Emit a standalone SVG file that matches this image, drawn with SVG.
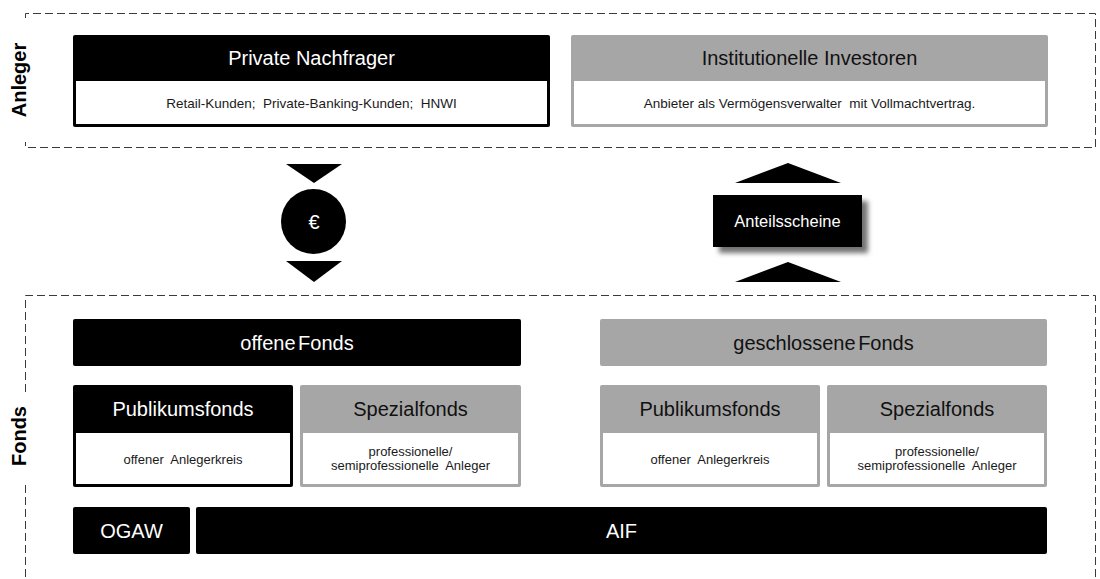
<svg xmlns="http://www.w3.org/2000/svg" width="1100" height="579" viewBox="0 0 1100 579">
  <defs>
    <style>
      .dash { fill: none; stroke: #3a3a3a; stroke-width: 1; stroke-dasharray: 8 4; }
      .blk { fill: #000000; }
      .gry { fill: #a6a6a6; }
      .wht { fill: #ffffff; }
      .t { font-family: "Liberation Sans", Arial, sans-serif; text-anchor: middle; white-space: pre; }
      .hw { font-size: 20px; fill: #ffffff; }
      .hd { font-size: 20px; fill: #111111; }
      .sub { font-size: 13.5px; fill: #1a1a1a; }
      .sub2 { font-size: 13px; fill: #1a1a1a; }
      .lbl { font-size: 20px; font-weight: bold; fill: #000000; }
      .arr { fill: #000000; }
    </style>
    <filter id="shadow" x="-20%" y="-30%" width="150%" height="180%">
      <feDropShadow dx="6" dy="6" stdDeviation="2.5" flood-color="#000000" flood-opacity="0.55"/>
    </filter>
  </defs>
  <rect width="1100" height="579" fill="#ffffff"/>

  <!-- Anleger region -->
  <g id="region-anleger">
    <path class="dash" d="M25.5 18 V13.5 H1095.5 V147.5 H25.5 V142"/>
    <text class="t lbl" transform="translate(26 80) rotate(-90)">Anleger</text>
  </g>

  <g id="node-private">
    <rect x="73" y="35" width="477" height="92" rx="2" class="blk"/>
    <rect x="76" y="81" width="471" height="43" class="wht"/>
    <text class="t hw" x="311.5" y="64.5">Private Nachfrager</text>
    <text class="t sub" x="311.5" y="108">Retail-Kunden;  Private-Banking-Kunden;  HNWI</text>
  </g>

  <g id="node-institutionelle">
    <rect x="571" y="35" width="477" height="92" rx="2" class="gry"/>
    <rect x="574" y="81" width="471" height="43" class="wht"/>
    <text class="t hd" x="809.5" y="64.5">Institutionelle Investoren</text>
    <text class="t sub" x="809.5" y="108">Anbieter als Vermögensverwalter  mit Vollmachtvertrag.</text>
  </g>

  <!-- Connectors / flow symbols -->
  <g id="connectors">
    <polygon class="arr" points="286,164 342,164 314,183"/>
    <polygon class="arr" points="286,261 342,261 314,282"/>
    <polygon class="arr" points="735,183 841,183 788,163"/>
    <polygon class="arr" points="735,282 841,282 788,262"/>
  </g>

  <g id="node-euro">
    <circle cx="313.5" cy="221.5" r="32.5" class="blk"/>
    <text class="t" x="314" y="229" font-size="20" fill="#ffffff">€</text>
  </g>

  <g id="node-anteilsscheine">
    <rect x="713" y="195" width="149" height="52" class="blk" filter="url(#shadow)"/>
    <text class="t" x="787.5" y="227" font-size="16.5" fill="#ffffff">Anteilsscheine</text>
  </g>

  <!-- Fonds region -->
  <g id="region-fonds">
    <path class="dash" d="M25.5 392 V295.5 H1095.5 V600 M25.5 485 V600"/>
    <text class="t lbl" transform="translate(26 436) rotate(-90)">Fonds</text>
  </g>

  <g id="node-offene-fonds">
    <rect x="73" y="319" width="448" height="47" rx="2" class="blk"/>
    <text class="t hw" x="297" y="349.5" word-spacing="-3">offene Fonds</text>
  </g>

  <g id="node-geschlossene-fonds">
    <rect x="600" y="319" width="447" height="47" rx="2" class="gry"/>
    <text class="t hd" x="823.5" y="349.5" word-spacing="-3">geschlossene Fonds</text>
  </g>

  <g id="node-publikum-offen">
    <rect x="73" y="385" width="220" height="102" rx="2" class="blk"/>
    <rect x="76" y="433" width="214" height="51" class="wht"/>
    <text class="t hw" x="183" y="416">Publikumsfonds</text>
    <text class="t sub2" x="183" y="463.5">offener  Anlegerkreis</text>
  </g>

  <g id="node-spezial-offen">
    <rect x="300" y="385" width="221" height="102" rx="2" class="gry"/>
    <rect x="303" y="433" width="215" height="51" class="wht"/>
    <text class="t hd" x="410.5" y="416">Spezialfonds</text>
    <text class="t sub2" x="410.5" y="456">professionelle/</text>
    <text class="t sub2" x="410.5" y="470">semiprofessionelle  Anleger</text>
  </g>

  <g id="node-publikum-geschlossen">
    <rect x="600" y="385" width="220" height="102" rx="2" class="gry"/>
    <rect x="603" y="433" width="214" height="51" class="wht"/>
    <text class="t hd" x="710" y="416">Publikumsfonds</text>
    <text class="t sub2" x="710" y="463.5">offener  Anlegerkreis</text>
  </g>

  <g id="node-spezial-geschlossen">
    <rect x="827" y="385" width="220" height="102" rx="2" class="gry"/>
    <rect x="830" y="433" width="214" height="51" class="wht"/>
    <text class="t hd" x="937" y="416">Spezialfonds</text>
    <text class="t sub2" x="937" y="456">professionelle/</text>
    <text class="t sub2" x="937" y="470">semiprofessionelle  Anleger</text>
  </g>

  <g id="node-ogaw">
    <rect x="73" y="507" width="117" height="47" rx="2" class="blk"/>
    <text class="t hw" x="131.5" y="538">OGAW</text>
  </g>

  <g id="node-aif">
    <rect x="196" y="507" width="851" height="47" rx="2" class="blk"/>
    <text class="t hw" x="621.5" y="538">AIF</text>
  </g>
</svg>
